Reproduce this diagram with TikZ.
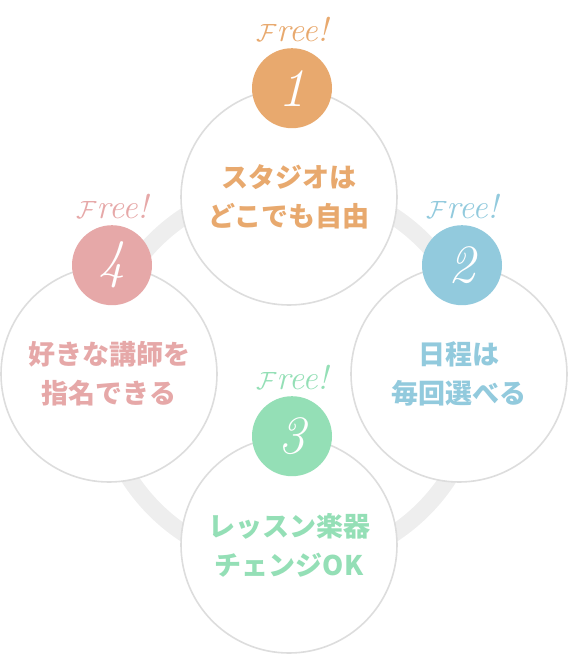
\documentclass[tikz,border=0pt]{standalone}
\usepackage{fontspec}
\newfontfamily\jp{Noto Sans CJK JP}
\usetikzlibrary{positioning}
\definecolor{orng}{HTML}{E8A96E}
\definecolor{blu}{HTML}{92CADD}
\definecolor{grn}{HTML}{94DFB6}
\definecolor{pnk}{HTML}{E6A8A8}
\definecolor{edge}{HTML}{DDDDDD}
\definecolor{band}{HTML}{EEEEEE}

\begin{document}
\begin{tikzpicture}[
    x=1pt, y=-1pt,
    bub/.style={circle, draw=edge, line width=1.6pt, fill=white, minimum size=216pt, inner sep=0pt, align=center, font=\jp\bfseries\fontsize{27}{39}\selectfont},
    num/.style={circle, minimum size=80pt, inner sep=0pt, text=white, font=\fontsize{54}{54}\selectfont\itshape},
    fr/.style={inner sep=0pt, font=\fontsize{34}{34}\selectfont\itshape},
    rg/.style={line width=17pt, draw=band},
]
\useasboundingbox (0,0) rectangle (568,656);

% Ring
\coordinate (hub) at (289,375);
\draw[rg] (hub) circle[radius=190];

% Bubbles
\node[bub, text=orng] (c1) at (289,197) {スタジオは\\どこでも自由};
\node[bub, text=blu] (c2) at (459,374) {日程は\\毎回選べる};
\node[bub, text=grn] (c3) at (289,545) {レッスン楽器\\チェンジOK};
\node[bub, text=pnk] (c4) at (109,374) {好きな講師を\\指名できる};

% Numbers
\node[num, fill=orng] (n1) at ([xshift=3pt]c1.north) {1};
\node[num, fill=blu] (n2) at ([xshift=3pt]c2.north) {2};
\node[num, fill=grn] (n3) at ([xshift=3pt]c3.north) {3};
\node[num, fill=pnk] (n4) at ([xshift=3pt]c4.north) {4};

% Free!
\node[fr, text=orng] (f1) at ([yshift=59pt]n1.center) {\(\mathcal{F}\)ree!};
\node[fr, text=blu] (f2) at ([yshift=59pt]n2.center) {\(\mathcal{F}\)ree!};
\node[fr, text=grn] (f3) at ([yshift=59pt]n3.center) {\(\mathcal{F}\)ree!};
\node[fr, text=pnk] (f4) at ([yshift=59pt]n4.center) {\(\mathcal{F}\)ree!};
\end{tikzpicture}
\end{document}
